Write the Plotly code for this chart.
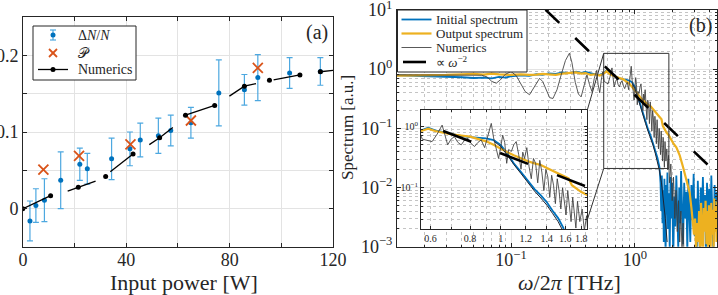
import math
import plotly.graph_objects as go

# ---------------- Panel (a) data ----------------
power_meas = [2.7, 5.0, 8.3, 14.6, 22.0, 24.9, 34.3, 41.4, 45.4, 52.4, 57.2, 65.0, 75.8, 85.7, 90.9, 103.2, 115.1]
dn_over_n = [-0.016, 0.004, 0.011, 0.037, 0.058, 0.052, 0.065, 0.078, 0.0896, 0.095, 0.102, 0.112, 0.151, 0.155, 0.171, 0.177, 0.179]
dn_err = [0.026, 0.022, 0.028, 0.037, 0.021, 0.020, 0.027, 0.022, 0.022, 0.023, 0.020, 0.020, 0.043, 0.020, 0.030, 0.020, 0.018]

power_P = [7.9, 21.7, 41.6, 65.0, 90.9]
P_vals = [0.051, 0.069, 0.084, 0.115, 0.1835]

num_seg_power = [0, 10.7, None, 17.3, 21.4, 28.1, None, 33.8, 42.6, None, 48.9, 52.9, 58.0, None,
                 62.9, 74.2, None, 79.9, 85.7, 90.2, None, 97.0, 107.2, None, 115.1, 122.0]
num_seg_vals = [0.0, 0.017, None, 0.023, 0.028, 0.036, None, 0.048, 0.0714, None, 0.0835, 0.0926, 0.106, None,
                0.122, 0.1347, None, 0.1468, 0.1597, 0.163, None, 0.168, 0.1745, None, 0.1786, 0.181]
num_dot_power = [0, 10.7, 21.4, 32.0, 42.6, 52.9, 62.9, 74.2, 85.7, 95.4, 107.2, 115.1]
num_dot_vals = [0.0, 0.017, 0.028, 0.042, 0.0714, 0.0926, 0.122, 0.1347, 0.1597, 0.1675, 0.1745, 0.1786]

x_ticks_a = [0, 40, 80, 120]
x_labels_a = ['0', '40', '80', '120']
x_minor_a = [20, 60, 100]
y_ticks_a = [0, 0.1, 0.2]
y_labels_a = ['0', '0.1', '0.2']
y_minor_a = [0.05, 0.15]

legend_a_labels = ['Δ<i>N</i>/<i>N</i>', '𝒫', 'Numerics']

# ---------------- Panel (b) data ----------------
omega_init = [0.012, 0.016, 0.022, 0.03, 0.04, 0.05, 0.06, 0.07, 0.08, 0.09, 0.1, 0.12, 0.14, 0.16, 0.18, 0.2,
              0.23, 0.26, 0.3, 0.335, 0.37, 0.4, 0.44, 0.48, 0.52, 0.56, 0.59, 0.62, 0.66, 0.70, 0.75, 0.80,
              0.85, 0.90, 0.95, 1.0, 1.05, 1.1, 1.16, 1.22, 1.28, 1.34, 1.4, 1.46, 1.52, 1.58,
              1.61, 1.63, 1.65, 1.67, 1.69, 1.71, 1.73, 1.75, 1.77, 1.79, 1.81, 1.83, 1.85, 1.88, 1.91,
              1.94, 1.97, 2.0, 2.04, 2.08, 2.12, 2.16, 2.2, 2.24, 2.28, 2.32, 2.36, 2.4, 2.45, 2.5, 2.55,
              2.6, 2.65, 2.7, 2.75, 2.8, 2.86, 2.92, 2.98, 3.04, 3.1, 3.16, 3.22, 3.28, 3.34, 3.4, 3.47,
              3.54, 3.61, 3.68, 3.75, 3.82, 3.9, 3.98, 4.06, 4.14, 4.22, 4.3, 4.4, 4.5, 4.6]
spec_init = [0.79, 0.78, 0.77, 0.76, 0.73, 0.71, 0.72, 0.70, 0.74, 0.72, 0.76, 0.79, 0.77, 0.82, 0.80, 0.85,
             0.83, 0.88, 0.86, 0.91, 0.87, 0.90, 0.85, 0.82, 0.80, 0.86, 0.95, 0.86, 0.80, 0.74, 0.70, 0.67,
             0.66, 0.64, 0.60, 0.50, 0.36, 0.25, 0.18, 0.13, 0.095, 0.075, 0.058, 0.042, 0.032, 0.022,
             0.012, 0.004, 0.016, 0.0025, 0.009, 0.0012, 0.014, 0.003, 0.0007, 0.011, 0.0035, 0.018, 0.002,
             0.008, 0.0009, 0.015, 0.003, 0.012, 0.0006, 0.007, 0.0022, 0.016, 0.0035, 0.0009, 0.010, 0.0025,
             0.019, 0.004, 0.0011, 0.012, 0.003, 0.0085, 0.0008, 0.014, 0.004, 0.0012, 0.011, 0.0028, 0.017,
             0.0015, 0.0065, 0.0007, 0.013, 0.0035, 0.0009, 0.010, 0.003, 0.015, 0.0022, 0.0075, 0.0006,
             0.012, 0.0033, 0.0095, 0.0014, 0.016, 0.004, 0.0008, 0.011, 0.003, 0.0085, 0.0025]

omega_out = [0.012, 0.016, 0.022, 0.03, 0.04, 0.05, 0.06, 0.07, 0.08, 0.09, 0.1, 0.12, 0.14, 0.16, 0.18, 0.2,
             0.23, 0.26, 0.3, 0.335, 0.37, 0.4, 0.44, 0.48, 0.52, 0.56, 0.59, 0.62, 0.66, 0.70, 0.75, 0.80,
             0.85, 0.90, 0.95, 1.0, 1.05, 1.1, 1.16, 1.22, 1.28, 1.34, 1.4, 1.46, 1.52, 1.58, 1.64, 1.68,
             1.74, 1.8, 1.88, 1.95, 2.05, 2.16, 2.3, 2.45, 2.6, 2.77, 2.86, 2.92, 3.0, 3.06, 3.12, 3.18,
             3.24, 3.3, 3.36, 3.42, 3.48, 3.54, 3.6, 3.66, 3.72, 3.78, 3.84, 3.9, 3.96, 4.02, 4.08, 4.14,
             4.2, 4.26, 4.32, 4.38, 4.44, 4.5, 4.56, 4.62]
spec_out = [0.78, 0.78, 0.79, 0.80, 0.82, 0.83, 0.81, 0.84, 0.82, 0.81, 0.80, 0.82, 0.80, 0.81, 0.83, 0.82,
            0.80, 0.84, 0.86, 0.88, 0.84, 0.86, 0.80, 0.82, 0.78, 0.84, 0.92, 0.84, 0.78, 0.74, 0.71, 0.68,
            0.62, 0.57, 0.50, 0.43, 0.38, 0.34, 0.30, 0.27, 0.25, 0.235, 0.21, 0.19, 0.17, 0.155, 0.142, 0.11,
            0.095, 0.085, 0.076, 0.065, 0.055, 0.048, 0.035, 0.022, 0.013, 0.0081, 0.0045, 0.0028, 0.0016, 0.003,
            0.0009, 0.0025, 0.0012, 0.004, 0.0008, 0.0055, 0.0015, 0.0007, 0.0045, 0.0018, 0.006, 0.0011, 0.004,
            0.0008, 0.005, 0.002, 0.0007, 0.0055, 0.0016, 0.0042, 0.0009, 0.0065, 0.0018, 0.0048, 0.0012, 0.0058]

omega_num = [0.012, 0.02, 0.03, 0.04, 0.05, 0.058, 0.064, 0.07, 0.076, 0.082, 0.09, 0.1, 0.11, 0.12, 0.13,
             0.141, 0.155, 0.17, 0.18, 0.193, 0.205, 0.218, 0.235, 0.254, 0.275, 0.296, 0.31, 0.33, 0.35,
             0.368, 0.39, 0.41, 0.43, 0.45, 0.47, 0.49, 0.505, 0.52, 0.535, 0.55, 0.565,
             0.58, 0.607, 0.63, 0.653, 0.665, 0.68, 0.697, 0.714, 0.732, 0.75, 0.77, 0.788, 0.808, 0.827,
             0.848, 0.868, 0.89, 0.91, 0.934, 0.95, 0.969, 0.985, 1.0, 1.015, 1.03, 1.045, 1.06, 1.081,
             1.1, 1.12, 1.14, 1.16, 1.175, 1.19, 1.21, 1.23, 1.25, 1.27, 1.29, 1.31, 1.33, 1.35, 1.37,
             1.39, 1.41, 1.43, 1.45, 1.47, 1.49, 1.51, 1.53, 1.55, 1.57, 1.59, 1.61, 1.63, 1.65, 1.67,
             1.69, 1.71, 1.73, 1.75, 1.78, 1.81, 1.84, 1.87, 1.9, 1.95, 2.0, 2.05, 2.1, 2.15, 2.2, 2.25,
             2.3, 2.35, 2.4, 2.45, 2.5, 2.6]
spec_num = [0.80, 0.80, 0.79, 0.80, 0.80, 0.79, 0.74, 0.62, 0.58, 0.66, 0.82, 0.91, 0.78, 0.58, 0.42,
            0.37, 0.52, 0.70, 0.62, 0.45, 0.33, 0.32, 0.45, 0.80, 1.4, 1.86, 1.3, 0.60, 0.38,
            0.34, 0.55, 0.80, 0.55, 0.42, 0.70, 0.95, 0.55, 0.40, 0.65, 0.90, 0.62,
            0.60, 0.565, 0.75, 1.05, 0.75, 0.50, 0.62, 0.68, 0.55, 0.50, 0.60, 0.64, 0.52, 0.47,
            0.55, 0.60, 0.45, 0.70, 1.12, 0.65, 0.44, 0.30, 0.45, 0.72, 0.55, 0.25, 0.42, 0.39,
            0.50, 0.565, 0.35, 0.20, 0.38, 0.30, 0.45, 0.22, 0.14, 0.30, 0.25, 0.12, 0.28, 0.18, 0.09,
            0.20, 0.15, 0.07, 0.16, 0.11, 0.055, 0.14, 0.09, 0.045, 0.10, 0.06, 0.036, 0.09, 0.05, 0.028,
            0.07, 0.04, 0.022, 0.06, 0.028, 0.045, 0.02, 0.035, 0.012, 0.025, 0.006, 0.015, 0.003, 0.009,
            0.0018, 0.006, 0.0012, 0.004, 0.0008, 0.0025, 0.0005, 0.0004]

omega_num_init = [0.95, 1.0, 1.05, 1.1, 1.16, 1.22, 1.28, 1.34, 1.4, 1.46, 1.52, 1.58, 1.64, 1.7, 1.76, 1.82]
spec_num_init = [0.58, 0.47, 0.34, 0.24, 0.17, 0.12, 0.088, 0.068, 0.052, 0.038, 0.028, 0.019, 0.012, 0.006, 0.003, 0.0012]

omega_guide = [0.19, 4.25]
guide_vals = [10.1, 0.0202]

inset_xlim = [0.56, 1.88]
inset_ylim = [0.021, 1.85]

legend_b_labels = ['Initial spectrum', 'Output spectrum', 'Numerics', '∝ <i>ω</i><sup>−2</sup>']

# ---------------- style ----------------
SERIF = "Liberation Serif"
AX = '#262626'
BLUE = '#0072BD'
ORANGE = '#EDB120'
RED = '#D95319'
ERRC = '#4DA8E0'
GRAYL = 'rgba(60,60,60,0.85)'
GRID = '#e3e3e3'
DOT = '#c4c4c4'
W, H = 718, 295

dom_a_x = [0.0320, 0.4638]
dom_a_y = [0.1627, 0.9424]
dom_b_x = [0.5529, 0.9986]
dom_b_y = [0.1637, 0.9661]
dom_i_x = [0.5864, 0.8180]
dom_i_y = [0.2227, 0.6271]
range_b_x = [math.log10(0.012), math.log10(4.6)]
range_b_y = [-3, 1]
range_i_x = [math.log10(inset_xlim[0]), math.log10(inset_xlim[1])]
range_i_y = [math.log10(inset_ylim[0]), math.log10(inset_ylim[1])]


def to_paper(v, dom, rng):
    return dom[0] + (math.log10(v) - rng[0]) / (rng[1] - rng[0]) * (dom[1] - dom[0])


def px(x):
    return x / W


def py(y):
    return 1 - y / H


fig = go.Figure()

# ---- panel (a) traces ----
fig.add_trace(go.Scatter(
    x=power_meas, y=dn_over_n, mode='markers', name=legend_a_labels[0],
    marker=dict(color=BLUE, size=5),
    error_y=dict(type='data', array=dn_err, color=ERRC, thickness=1.2, width=3),
    xaxis='x', yaxis='y'))
fig.add_trace(go.Scatter(
    x=power_P, y=P_vals, mode='markers', name=legend_a_labels[1],
    marker=dict(symbol='x-thin', size=10, line=dict(width=1.8, color=RED), color=RED),
    xaxis='x', yaxis='y'))
fig.add_trace(go.Scatter(
    x=num_seg_power, y=num_seg_vals, mode='lines', line=dict(color='black', width=1.3),
    name=legend_a_labels[2], xaxis='x', yaxis='y', connectgaps=False))
fig.add_trace(go.Scatter(
    x=num_dot_power, y=num_dot_vals, mode='markers', marker=dict(color='black', size=5),
    xaxis='x', yaxis='y'))

# ---- panel (b) traces (main + inset) ----
for xa, ya, main in [('x2', 'y2', True), ('x3', 'y3', False)]:
    dash = '19px,22px' if main else '30px,31px'
    fig.add_trace(go.Scatter(x=omega_init, y=spec_init, mode='lines', name=legend_b_labels[0],
                             line=dict(color=BLUE, width=1.8), xaxis=xa, yaxis=ya))
    fig.add_trace(go.Scatter(x=omega_out, y=spec_out, mode='lines', name=legend_b_labels[1],
                             line=dict(color=ORANGE, width=2.2), xaxis=xa, yaxis=ya))
    fig.add_trace(go.Scatter(x=omega_num_init, y=spec_num_init, mode='lines',
                             line=dict(color='#1c2433', width=1), xaxis=xa, yaxis=ya))
    fig.add_trace(go.Scatter(x=omega_num, y=spec_num, mode='lines', name=legend_b_labels[2],
                             line=dict(color=GRAYL, width=1), xaxis=xa, yaxis=ya))
    fig.add_trace(go.Scatter(x=omega_guide, y=guide_vals, mode='lines', name=legend_b_labels[3],
                             line=dict(color='black', width=2.6, dash=dash), xaxis=xa, yaxis=ya))

common = dict(showline=True, linecolor=AX, linewidth=1, mirror='ticks', ticks='inside', ticklen=4,
              tickcolor=AX, zeroline=False, showgrid=True, gridcolor=GRID, gridwidth=1,
              automargin=False, ticklabeloverflow='allow',
              tickfont=dict(family=SERIF, size=18, color=AX))

dec_minor = [2, 3, 4, 5, 6, 7, 8, 9]
minor_x_b = [m * 0.01 for m in dec_minor if m * 0.01 >= 0.012] + [m * 0.1 for m in dec_minor] + [2, 3, 4]
minor_y_b = [m * 10.0 ** e for e in range(-3, 1) for m in dec_minor]

fig.update_layout(
    width=W, height=H, margin=dict(l=0, r=0, t=0, b=0),
    paper_bgcolor='white', plot_bgcolor='white', template='none', showlegend=False,
    font=dict(family=SERIF, color=AX),
    xaxis=dict(common, domain=dom_a_x, range=[0, 120], tickvals=x_ticks_a, ticktext=x_labels_a, anchor='y',
               ticklabelstandoff=-4,
               minor=dict(tickvals=x_minor_a, ticks='inside', ticklen=4, tickcolor=AX,
                          showgrid=True, gridcolor=GRID)),
    yaxis=dict(common, domain=dom_a_y, range=[-0.05, 0.25], tickvals=y_ticks_a, ticktext=y_labels_a, anchor='x',
               minor=dict(tickvals=y_minor_a, ticks='inside', ticklen=4, tickcolor=AX,
                          showgrid=True, gridcolor=GRID)),
    xaxis2=dict(common, domain=dom_b_x, type='log', range=range_b_x, anchor='y2',
                tickvals=[0.1, 1], ticktext=['10<sup>−1</sup>', '10<sup>0</sup>'], ticklabelstandoff=-3,
                minor=dict(tickvals=minor_x_b, ticks='inside', ticklen=2, tickcolor=AX,
                           showgrid=True, gridcolor=DOT, griddash='dot', gridwidth=1)),
    yaxis2=dict(common, domain=dom_b_y, type='log', range=range_b_y, anchor='x2',
                tickvals=[1e-3, 1e-2, 1e-1, 1, 10],
                ticktext=['10<sup>−3</sup>', '10<sup>−2</sup>', '10<sup>−1</sup>', '10<sup>0</sup>', '10<sup>1</sup>'],
                minor=dict(tickvals=minor_y_b, ticks='inside', ticklen=2, tickcolor=AX,
                           showgrid=True, gridcolor=DOT, griddash='dot', gridwidth=1)),
    xaxis3=dict(common, domain=dom_i_x, type='log', range=range_i_x, anchor='y3',
                tickvals=[0.6, 0.8, 1, 1.2, 1.4, 1.6, 1.8], ticktext=['0.6', '0.8', '1', '1.2', '1.4', '1.6', '1.8'],
                tickfont=dict(family=SERIF, size=10, color=AX), ticklen=3, griddash='dot', gridcolor=DOT,
                minor=dict(tickvals=[0.7, 0.9], ticks='inside', ticklen=2, tickcolor=AX,
                           showgrid=True, gridcolor=DOT, griddash='dot')),
    yaxis3=dict(common, domain=dom_i_y, type='log', range=range_i_y, anchor='x3',
                tickvals=[0.1, 1], ticktext=['10<sup>−1</sup>', '10<sup>0</sup>'],
                tickfont=dict(family=SERIF, size=10, color=AX), ticklen=3,
                minor=dict(tickvals=[0.03, 0.04, 0.05, 0.06, 0.07, 0.08, 0.09, 0.2, 0.3, 0.4, 0.5, 0.6, 0.7, 0.8, 0.9],
                           ticks='inside', ticklen=2, tickcolor=AX,
                           showgrid=True, gridcolor=DOT, griddash='dot')),
)

LINE = dict(color='#333333', width=1)
# zoom rectangle and connectors (paper coordinates derived from axis mapping)
rx0 = to_paper(inset_xlim[0], dom_b_x, range_b_x)
rx1 = to_paper(inset_xlim[1], dom_b_x, range_b_x)
ry0 = to_paper(inset_ylim[0], dom_b_y, range_b_y)
ry1 = to_paper(inset_ylim[1], dom_b_y, range_b_y)
fig.add_shape(type='rect', xref='paper', yref='paper', x0=rx0, x1=rx1, y0=ry0, y1=ry1, line=LINE, layer='above')
fig.add_shape(type='line', xref='paper', yref='paper', x0=rx0, y0=ry1, x1=dom_i_x[1], y1=dom_i_y[1],
              line=LINE, layer='above')
fig.add_shape(type='line', xref='paper', yref='paper', x0=rx0, y0=ry0, x1=dom_i_x[1],
              y1=dom_i_y[0] + 0.08 * (dom_i_y[1] - dom_i_y[0]), line=LINE, layer='above')


def shape_line(x0, y0, x1, y1, color, width, dash='solid'):
    fig.add_shape(type='line', xref='paper', yref='paper', x0=px(x0), y0=py(y0), x1=px(x1), y1=py(y1),
                  line=dict(color=color, width=width, dash=dash), layer='above')


def shape_dot(cx, cy, r, color):
    fig.add_shape(type='circle', xref='paper', yref='paper', x0=px(cx - r), x1=px(cx + r),
                  y0=py(cy + r), y1=py(cy - r), line=dict(color=color, width=0), fillcolor=color, layer='above')


def label(text, x, y, size):
    fig.add_annotation(text=text, x=px(x), y=py(y), xref='paper', yref='paper', showarrow=False,
                       xanchor='left', yanchor='middle', font=dict(family=SERIF, size=size, color=AX))


# ---- legend (a) ----
fig.add_shape(type='rect', xref='paper', yref='paper', x0=px(33), x1=px(136), y0=py(80), y1=py(26),
              line=dict(color=AX, width=1), fillcolor='white', layer='above')
ya_rows = [35, 53, 69.5]
shape_line(53, ya_rows[0] - 5, 53, ya_rows[0] + 5, ERRC, 1.2)
shape_line(50, ya_rows[0] - 5, 56, ya_rows[0] - 5, ERRC, 1.2)
shape_line(50, ya_rows[0] + 5, 56, ya_rows[0] + 5, ERRC, 1.2)
shape_dot(53, ya_rows[0], 2.5, BLUE)
shape_line(49, ya_rows[1] - 4, 57, ya_rows[1] + 4, RED, 1.8)
shape_line(49, ya_rows[1] + 4, 57, ya_rows[1] - 4, RED, 1.8)
shape_line(38, ya_rows[2], 68, ya_rows[2], 'black', 1.3)
shape_dot(53, ya_rows[2], 2.5, 'black')
for t, yy in zip(legend_a_labels, ya_rows):
    label(t, 76, yy, 14)

# ---- legend (b) ----
fig.add_shape(type='rect', xref='paper', yref='paper', x0=px(397.5), x1=px(527), y0=py(72), y1=py(10),
              line=dict(color=AX, width=1), fillcolor='white', layer='above')
yb_rows = [19.5, 33.5, 47.5, 62]
shape_line(401.5, yb_rows[0], 431.5, yb_rows[0], BLUE, 1.8)
shape_line(401.5, yb_rows[1], 431.5, yb_rows[1], ORANGE, 2.2)
shape_line(401.5, yb_rows[2], 431.5, yb_rows[2], GRAYL, 1)
shape_line(403, yb_rows[3], 426, yb_rows[3], 'black', 2.6)
for t, yy in zip(legend_b_labels, yb_rows):
    label(t, 434, yy, 13)

annos = [
    dict(text='Input power [W]', x=0.2556, y=0.0407, size=22, angle=0),
    dict(text='<i>ω</i>/2<i>π</i> [THz]', x=0.7925, y=0.0407, size=22, angle=0),
    dict(text='Spectrum [a.u.]', x=0.4833, y=0.566, size=17, angle=-90),
    dict(text='(a)', x=0.4415, y=0.8915, size=20, angle=0),
    dict(text='(b)', x=0.975, y=0.915, size=20, angle=0),
]
for a in annos:
    fig.add_annotation(text=a['text'], x=a['x'], y=a['y'], xref='paper', yref='paper',
                       showarrow=False, textangle=a['angle'], xanchor='center', yanchor='middle',
                       font=dict(family=SERIF, size=a['size'], color=AX))

fig.write_html("out.html", config={'displayModeBar': False},
               post_script="document.body.style.margin='0px';document.body.style.padding='0px';")
